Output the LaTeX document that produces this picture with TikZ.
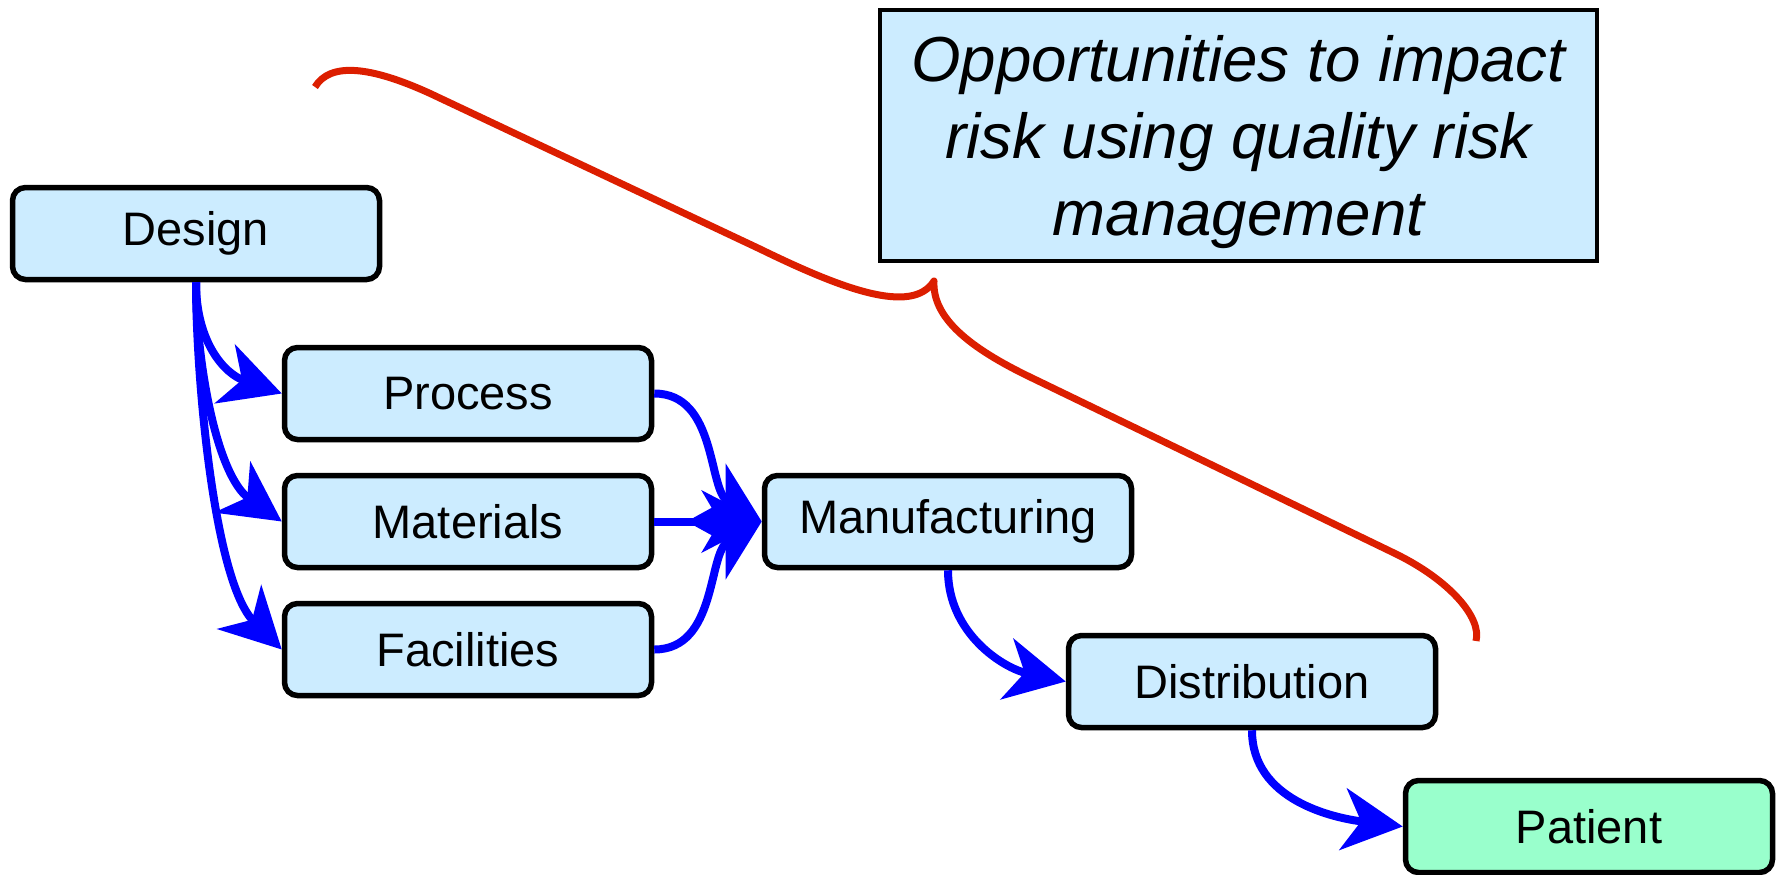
\documentclass[tikz,border=0pt]{standalone}
\usepackage{fontspec}
\setmainfont{Liberation Sans}
\usetikzlibrary{arrows.meta, positioning}
\definecolor{boxblue}{RGB}{204,236,255}
\definecolor{boxgreen}{RGB}{153,255,204}
\definecolor{bracered}{RGB}{220,30,0}
\tikzstyle{stage} = [rectangle, draw, line width=2.75pt, rounded corners=6.5pt, minimum width=183.5pt, minimum height=46pt, inner sep=0pt, fill=boxblue, font=\fontsize{23.5}{28}\selectfont]
\tikzstyle{note} = [rectangle, draw, line width=2.25pt, minimum width=358.5pt, minimum height=125.5pt, inner sep=0pt, fill=boxblue, align=center, font=\fontsize{31.8}{38.5}\selectfont\itshape]
\tikzstyle{flow} = [line width=4pt, draw=blue, -{Stealth[length=30pt, width=31pt, inset=9pt]}]

\begin{document}
\begin{tikzpicture}[x=0.5pt, y=0.5pt, node distance=64pt]
    \useasboundingbox (0,0) rectangle (1784,-874);
    \node(design)[stage] at (196,-233.5){Design};
    \node(process)[stage, below of=design, xshift=136pt, yshift=-16pt]{Process};
    \node(materials)[stage, below of=process]{Materials};
    \node(facilities)[stage, below of=materials]{Facilities};
    \node(manufacturing)[stage, right of=materials, xshift=176pt]{Manufacturing};
    \node(distribution)[stage, below of=manufacturing, xshift=152pt, yshift=-16pt]{Distribution};
    \node(patient)[stage, fill=boxgreen, below of=distribution, xshift=168.5pt, yshift=-8.5pt]{Patient};
    \node(qrm)[note] at (1238.5,-135.5){\rule{0pt}{30pt}Opportunities to impact\\risk using quality risk\\management};
    \draw [flow] (design.south) to[out=-90, in=161, looseness=1.1] (process.west);
    \draw [flow] (design.south) to[out=-90, in=145, looseness=0.8] (materials.west);
    \draw [flow] (design.south) to[out=-90, in=135, looseness=0.65] (facilities.west);
    \draw [flow] (process.east) .. controls +(63,0) and +(-54,32) .. (manufacturing.west);
    \draw [flow] (materials) -- (manufacturing);
    \draw [flow] (facilities.east) .. controls +(63,0) and +(-54,-32) .. (manufacturing.west);
    \draw [flow] (manufacturing.south) to[out=-90, in=168] (distribution.west);
    \draw [flow] (distribution.south) to[out=-90, in=173] (patient.west);
    \draw [bracered, line width=3.5pt, line join=round] (315,-87) .. controls (330,-62) and (370,-66) .. (430,-93.4) -- (760,-249) .. controls (840,-288) and (912,-316) .. (934,-281) .. controls (932,-318) and (970,-348) .. (1030,-377) -- (1394,-553) .. controls (1450,-580) and (1482,-618) .. (1476,-641);
\end{tikzpicture}
\end{document}
